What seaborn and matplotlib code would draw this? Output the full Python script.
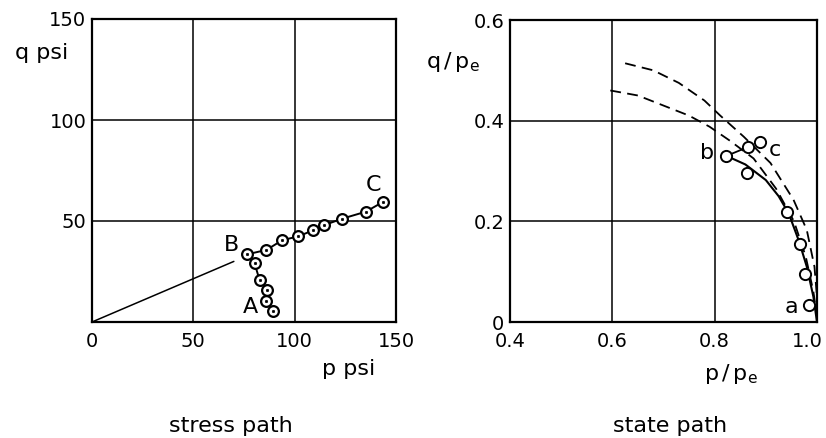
import matplotlib
matplotlib.use("Agg")
import matplotlib.pyplot as plt
import matplotlib.transforms as mtransforms
import seaborn as sns
import pandas as pd

# ---------------- data ----------------
# stress path (left panel): A -> B -> C
stress_p = [89.5, 86.0, 86.5, 82.7, 80.2, 76.6, 86.1, 93.9, 101.8, 109.1, 114.4, 123.6, 135.1, 143.7]
stress_q = [5.6, 10.5, 15.8, 20.7, 29.1, 33.5, 35.7, 40.5, 42.4, 45.4, 47.9, 51.2, 54.6, 59.5]
# straight line from origin towards B
origin_line_p = [0.0, 70.0]
origin_line_q = [0.0, 30.0]

left_xticks = [0, 50, 100, 150]
left_yticks = [50, 100, 150]

# state path (right panel) measured points
state_p = [0.823, 0.866, 0.888, 0.864, 0.941, 0.967, 0.977, 0.984]
state_q = [0.330, 0.348, 0.358, 0.297, 0.218, 0.154, 0.095, 0.033]
# short segment b -> next point
seg_p = [0.823, 0.866]
seg_q = [0.330, 0.348]

# solid curve
solid_p = [0.823, 0.860, 0.900, 0.925, 0.945, 0.965, 0.980, 0.993, 1.000]
solid_q = [0.330, 0.313, 0.282, 0.250, 0.215, 0.160, 0.110, 0.050, 0.000]
# lower dashed curve
dash1_p = [0.596, 0.650, 0.700, 0.750, 0.790, 0.830, 0.876, 0.920, 0.955, 0.978, 0.993, 1.000]
dash1_q = [0.460, 0.450, 0.430, 0.410, 0.388, 0.360, 0.325, 0.265, 0.200, 0.130, 0.060, 0.010]
# upper dashed curve
dash2_p = [0.625, 0.680, 0.730, 0.780, 0.811, 0.857, 0.909, 0.954, 0.980, 0.995, 1.000]
dash2_q = [0.514, 0.500, 0.475, 0.440, 0.410, 0.368, 0.316, 0.243, 0.183, 0.110, 0.050]

right_xticks = [0.4, 0.6, 0.8, 1.0]
right_xlabels = ["0.4", "0.6", "0.8", "1.0"]
right_yticks = [0.0, 0.2, 0.4, 0.6]
right_ylabels = ["0", "0.2", "0.4", "0.6"]

# ---------------- style ----------------
sns.set_theme(style="white")
plt.rcParams["font.family"] = ["DejaVu Sans"]
plt.rcParams["mathtext.fontset"] = "dejavusans"
plt.rcParams["text.color"] = "black"

W, H = 826, 438
fig = plt.figure(figsize=(W / 100, H / 100), dpi=100)
fig.patch.set_facecolor("white")

def fx(px):
    return px / W

def fy(py):
    return 1 - py / H

ax1 = fig.add_axes([fx(92), fy(322), fx(396) - fx(92), fy(19) - fy(322)])
ax2 = fig.add_axes([fx(510), fy(322), fx(817) - fx(510), fy(20) - fy(322)])

TICK_FS = 14
LAB_FS = 16

for ax in (ax1, ax2):
    ax.set_facecolor("white")
    for s in ax.spines.values():
        s.set_visible(True)
        s.set_color("black")
        s.set_linewidth(1.6)
    ax.grid(True, color="black", linewidth=1.1)
    ax.set_axisbelow(True)
    ax.tick_params(axis="both", length=0, labelsize=TICK_FS, colors="black")
    ax.tick_params(axis="x", pad=7)
    ax.tick_params(axis="y", pad=4)

# ---------------- left panel ----------------
df_stress = pd.DataFrame({"p": stress_p, "q": stress_q})
sns.lineplot(data=df_stress, x="p", y="q", sort=False, estimator=None,
             color="black", linewidth=1.4, ax=ax1, zorder=3)
sns.lineplot(x=origin_line_p, y=origin_line_q, sort=False, estimator=None,
             color="black", linewidth=1.1, ax=ax1, zorder=3)
sns.scatterplot(data=df_stress, x="p", y="q", s=60, marker="o",
                facecolor="white", edgecolor="black", linewidth=1.6, ax=ax1, zorder=4)
sns.scatterplot(data=df_stress, x="p", y="q", s=3, marker="o",
                color="black", edgecolor="black", linewidth=0.5, ax=ax1, zorder=5)

ax1.set_xlim(0, 150)
ax1.set_ylim(0, 150)
ax1.set_xticks(left_xticks)
ax1.set_yticks(left_yticks)
ax1.set_xticklabels([str(v) for v in left_xticks])
ax1.set_yticklabels([str(v) for v in left_yticks])
ax1.set_xlabel("")
ax1.set_ylabel("")

ax1.text(69, 38, "B", fontsize=LAB_FS, ha="center", va="center", zorder=6)
ax1.text(78, 7.5, "A", fontsize=LAB_FS, ha="center", va="center", zorder=6)
ax1.text(139, 68, "C", fontsize=LAB_FS, ha="center", va="center", zorder=6)

# ---------------- right panel ----------------
sns.lineplot(x=solid_p, y=solid_q, sort=False, estimator=None,
             color="black", linewidth=1.5, ax=ax2, zorder=3)
sns.lineplot(x=dash1_p, y=dash1_q, sort=False, estimator=None,
             color="black", linewidth=1.3, ax=ax2, zorder=3, dashes=False,
             linestyle=(0, (6, 3.5)))
sns.lineplot(x=dash2_p, y=dash2_q, sort=False, estimator=None,
             color="black", linewidth=1.3, ax=ax2, zorder=3, dashes=False,
             linestyle=(0, (6, 3.5)))
sns.lineplot(x=seg_p, y=seg_q, sort=False, estimator=None,
             color="black", linewidth=1.3, ax=ax2, zorder=3)
sns.scatterplot(x=state_p, y=state_q, s=65, marker="o",
                facecolor="white", edgecolor="black", linewidth=1.4, ax=ax2, zorder=4)

ax2.set_xlim(0.4, 1.0)
ax2.set_ylim(0.0, 0.6)
ax2.set_xticks(right_xticks)
ax2.set_yticks(right_yticks)
ax2.set_xticklabels(right_xlabels)
ax2.set_yticklabels(right_ylabels)
ax2.set_xlabel("")
ax2.set_ylabel("")

# keep the last x tick label inside the figure
last = ax2.get_xticklabels()[-1]
last.set_horizontalalignment("right")
last.set_transform(last.get_transform() + mtransforms.ScaledTranslation(6 / 100, 0, fig.dpi_scale_trans))

ax2.text(0.785, 0.335, "b", fontsize=LAB_FS, ha="center", va="center", zorder=6)
ax2.text(0.918, 0.342, "c", fontsize=LAB_FS, ha="center", va="center", zorder=6)
ax2.text(0.950, 0.030, "a", fontsize=LAB_FS, ha="center", va="center", zorder=6)

# ---------------- figure labels ----------------
fig.text(fx(42), fy(53), "q psi", fontsize=LAB_FS, ha="center", va="center")
fig.text(fx(349), fy(369), "p psi", fontsize=LAB_FS, ha="center", va="center")
fig.text(fx(231), fy(426), "stress path", fontsize=LAB_FS, ha="center", va="center")

fig.text(fx(453), fy(62), r"$\mathregular{q\,/\,p_e}$", fontsize=LAB_FS, ha="center", va="center")
fig.text(fx(731), fy(374), r"$\mathregular{p\,/\,p_e}$", fontsize=LAB_FS, ha="center", va="center")
fig.text(fx(670), fy(426), "state path", fontsize=LAB_FS, ha="center", va="center")

fig.savefig("out.png", dpi=100, facecolor="white")
